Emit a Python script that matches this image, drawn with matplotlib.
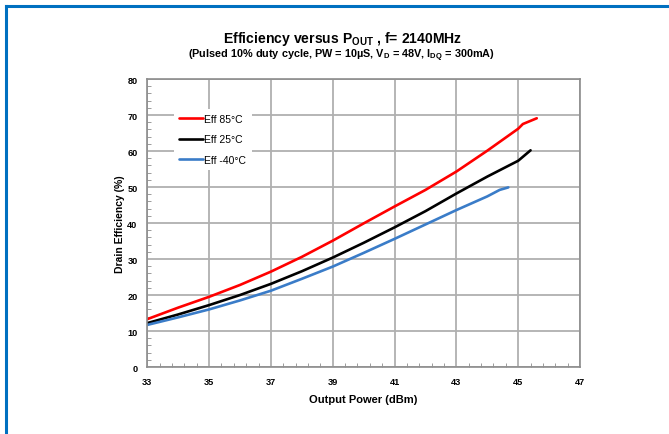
import matplotlib
matplotlib.use('Agg')
import numpy as np
import matplotlib.pyplot as plt
from matplotlib.lines import Line2D

plt.rcParams['font.family'] = 'Liberation Sans'
plt.rcParams['mathtext.fontset'] = 'custom'
plt.rcParams['mathtext.rm'] = 'Liberation Sans:bold'
plt.rcParams['mathtext.it'] = 'Liberation Sans:bold'
plt.rcParams['mathtext.bf'] = 'Liberation Sans:bold'
plt.rcParams['mathtext.default'] = 'rm'

# Drain efficiency (%) vs output power (dBm)
pout_85 = [33, 34, 35, 36, 37, 38, 39, 40, 41, 42, 43, 44, 45, 45.15, 45.6]
eff_85 = [13.3, 16.5, 19.5, 22.8, 26.5, 30.6, 35.1, 39.9, 44.6, 49.2, 54.3, 60.1, 66.2, 67.5, 69.1]

pout_25 = [33, 34, 35, 36, 37, 38, 39, 40, 41, 42, 43, 44, 45, 45.4]
eff_25 = [12.2, 14.6, 17.2, 20.0, 23.1, 26.6, 30.4, 34.5, 38.8, 43.3, 48.2, 52.9, 57.3, 60.2]

pout_m40 = [33, 34, 35, 36, 37, 38, 39, 40, 41, 42, 43, 44, 44.4, 44.68]
eff_m40 = [11.7, 13.8, 16.0, 18.5, 21.2, 24.5, 27.9, 31.7, 35.6, 39.6, 43.6, 47.4, 49.2, 49.9]

x_ticks = [33, 35, 37, 39, 41, 43, 45, 47]
y_ticks = [0, 10, 20, 30, 40, 50, 60, 70, 80]

series = [
    ('Eff 85°C', pout_85, eff_85, '#FF0000'),
    ('Eff 25°C', pout_25, eff_25, '#000000'),
    ('Eff -40°C', pout_m40, eff_m40, '#3A7CC8'),
]

fig = plt.figure(figsize=(6.69, 4.35), dpi=100)
ax = fig.add_axes([0.2202, 0.154, 0.6468, 0.662])

for label, x, y, color in series:
    ax.plot(x, y, color=color, lw=1.9, label=label, solid_capstyle='round')

ax.set_xlim(33, 47)
ax.set_ylim(0, 80)
ax.set_xticks(x_ticks)
ax.set_xticks(np.arange(33, 47.01, 0.4), minor=True)
ax.set_yticks(y_ticks)
ax.set_yticks(np.arange(0, 80.01, 2), minor=True)
ax.grid(True, which='major', color='#B0B0B0', lw=1.3)
ax.set_axisbelow(True)
for s in ax.spines.values():
    s.set_color('#8C8C8C')
    s.set_linewidth(1.2)
ax.tick_params(which='both', direction='in', color='#8C8C8C', labelsize=6.6)
ax.tick_params(which='major', length=0, pad=7)
ax.tick_params(which='minor', length=3)
for lab in ax.get_xticklabels() + ax.get_yticklabels():
    lab.set_fontweight('bold')

ax.set_xlabel('Output Power (dBm)', fontsize=8, fontweight='bold', labelpad=6)
ax.set_ylabel('Drain Efficiency (%)', fontsize=7.5, fontweight='bold', labelpad=2)

leg = ax.legend(loc='upper left', bbox_to_anchor=(0.05, 0.915), fontsize=7.5,
                frameon=True, fancybox=False, edgecolor='none', facecolor='white',
                framealpha=1, handlelength=2.3, handletextpad=0.1,
                labelspacing=1.0, borderpad=0.5)

fig.text(0.512, 0.910, r'Efficiency versus P$_{OUT}$ , f= 2140MHz',
         ha='center', va='center', fontsize=10.1, fontweight='bold')
fig.text(0.511, 0.872,
         r'(Pulsed 10% duty cycle, PW = 10µS, V$_{D}$ = 48V, I$_{DQ}$ = 300mA)',
         ha='center', va='center', fontsize=7.8, fontweight='bold')

# blue frame on top and left edge of the original page crop
border = '#0070C0'
fig.add_artist(Line2D([5.5 / 669, 1.0], [1 - 7.3 / 435, 1 - 7.3 / 435],
                      transform=fig.transFigure, color=border, lw=2.2))
fig.add_artist(Line2D([5.5 / 669, 5.5 / 669], [0.0, 1 - 7.3 / 435],
                      transform=fig.transFigure, color=border, lw=2.2))

fig.savefig('out.png', dpi=100)
